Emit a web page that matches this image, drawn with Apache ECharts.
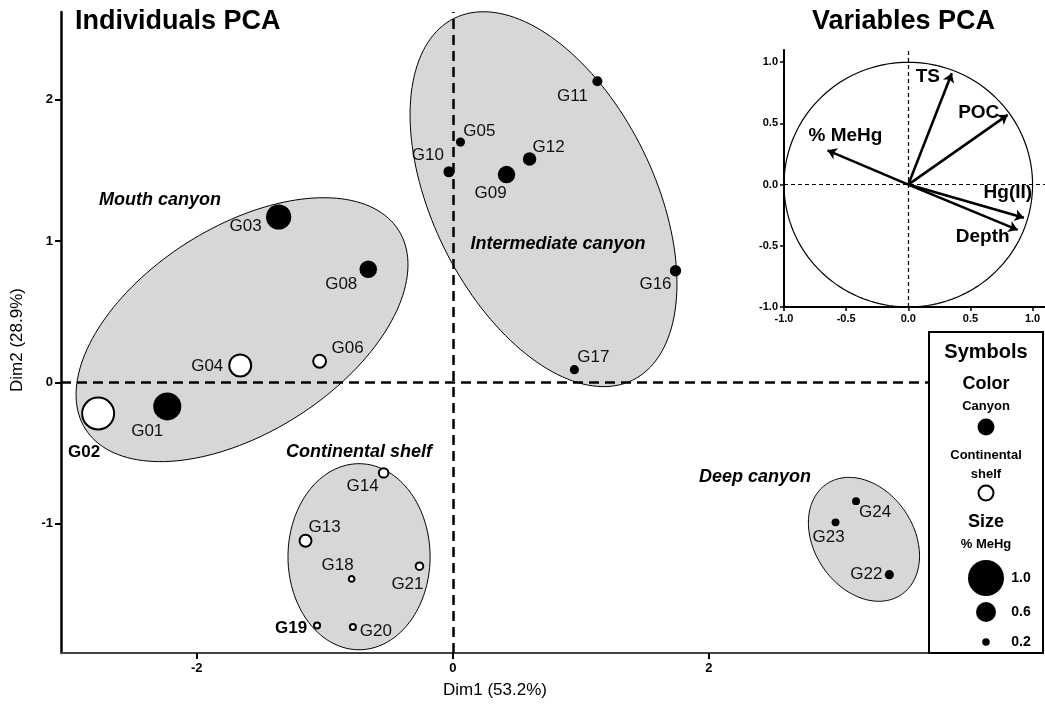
<!DOCTYPE html>
<html><head><meta charset="utf-8">
<script src="https://cdn.jsdelivr.net/npm/echarts@6/dist/echarts.min.js"></script>
<style>html,body{margin:0;padding:0;background:#fff}#c{width:1045px;height:709px}</style>
</head><body><div id="c"></div>
<script>
// ---------------- DATA ----------------
const sampleNames = ['G01','G02','G03','G04','G05','G06','G08','G09','G10','G11','G12','G13','G14','G16','G17','G18','G19','G20','G21','G22','G23','G24'];
const dim1 = [-2.23,-2.77,-1.36,-1.66,0.06,-1.04,-0.66,0.42,-0.03,1.13,0.60,-1.15,-0.54,1.74,0.95,-0.79,-1.06,-0.78,-0.26,3.41,2.99,3.15];
const dim2 = [-0.17,-0.22,1.17,0.12,1.70,0.15,0.80,1.47,1.49,2.13,1.58,-1.12,-0.64,0.79,0.09,-1.39,-1.72,-1.73,-1.30,-1.36,-0.99,-0.84];
const mehg = [0.80,0.90,0.73,0.65,0.25,0.37,0.52,0.52,0.31,0.28,0.39,0.34,0.26,0.32,0.25,0.14,0.15,0.15,0.20,0.25,0.21,0.21];
const habitat = ['Canyon','Shelf','Canyon','Shelf','Canyon','Shelf','Canyon','Canyon','Canyon','Canyon','Canyon','Shelf','Shelf','Canyon','Canyon','Shelf','Shelf','Shelf','Shelf','Canyon','Canyon','Canyon'];

// group confidence ellipses: centre (d1,d2) and two conjugate semi-axis vectors
const groupNames = ['Mouth canyon','Intermediate canyon','Continental shelf','Deep canyon'];
const ellCenter = [[-1.646,0.373],[0.709,1.296],[-0.732,-1.233],[3.212,-1.110]];
const ellAxisU  = [[1.223,0.703],[-0.696,1.280],[0.555,0],[-0.291,0.392]];
const ellAxisV  = [[0.430,-0.614],[0.776,0.346],[0,0.658],[0.322,0.196]];

// variables PCA (loadings)
const varNames = ['% MeHg','TS','POC','Hg(II)','Depth'];
const load1 = [-0.65,0.35,0.80,0.93,0.88];
const load2 = [0.28,0.91,0.57,-0.27,-0.37];

const xTicks = [-2,0,2];
const yTicks = [-1,0,1,2];
const varTicks = [-1,-0.5,0,0.5,1];
const sizeLegendValues = [1.0,0.6,0.2];

// ---------------- STYLE ----------------
const FONT = '"Liberation Sans", Arial, Helvetica, sans-serif';
const labelOffsets = {
  G01:[-20,25],G02:[-14,39],G03:[-33,9],G04:[-33,1],G05:[19,-11],G06:[28,-13],G08:[-27,15],
  G09:[-16,19],G10:[-21,-16],G11:[-25,15],G12:[19,-12],G13:[19,-13],G14:[-21,13],G16:[-20,14],
  G17:[19,-12],G18:[-14,-14],G19:[-26,3],G20:[23,4],G21:[-12,18],G22:[-23,0],G23:[-7,15],G24:[19,11]
};
const boldLabels = {G02:true,G19:true};
const varLabelOffsets = [[18,-15],[-24,4],[-29,-2],[-16,-25],[-35,7]];
const groupLabelPx = [[160,200],[558,244],[359,452],[755,477]];

function radiusFor(v){ return v <= 0.6 ? 3.8 + (v-0.2)*15.5 : 10 + (v-0.6)*20; }

const pointData = sampleNames.map((n,i)=>{
  const open = habitat[i]==='Shelf';
  return {
    name:n, value:[dim1[i],dim2[i]], symbolSize: 2*radiusFor(mehg[i]),
    itemStyle: open ? {color:'#fff',borderColor:'#000',borderWidth:2,opacity:1} : {color:'#000',borderColor:'#000',borderWidth:0,opacity:1},
    label:{offset:labelOffsets[n], fontWeight: boldLabels[n]?'bold':'normal', color: boldLabels[n]?'#000':'#111'}
  };
});
const ellipseData = groupNames.map((g,i)=>({name:g, value:[ellCenter[i][0],ellCenter[i][1],ellAxisU[i][0],ellAxisU[i][1],ellAxisV[i][0],ellAxisV[i][1]]}));

function ellipseRender(fill, lw){
  return function(params, api){
    const cx=api.value(0), cy=api.value(1), ux=api.value(2), uy=api.value(3), vx=api.value(4), vy=api.value(5);
    const pts=[]; const N=160;
    for(let k=0;k<N;k++){
      const t=2*Math.PI*k/N, c=Math.cos(t), s=Math.sin(t);
      pts.push(api.coord([cx+ux*c+vx*s, cy+uy*c+vy*s]));
    }
    return {type:'polygon', shape:{points:pts}, style:{fill:fill, stroke:'#000', lineWidth:lw}};
  };
}

const chart = echarts.init(document.getElementById('c'), null, {renderer:'canvas'});

const legendX = 986;
const legendGraphics = [
  {type:'rect', shape:{x:929,y:332,width:114,height:321}, style:{fill:'#fff',stroke:'#000',lineWidth:2}, z:10},
  {type:'text', x:legendX, y:352, style:{text:'Symbols',font:'bold 20px '+FONT,fill:'#000',align:'center',verticalAlign:'middle'}, z:11},
  {type:'text', x:legendX, y:384, style:{text:'Color',font:'bold 18px '+FONT,fill:'#000',align:'center',verticalAlign:'middle'}, z:11},
  {type:'text', x:legendX, y:406, style:{text:'Canyon',font:'bold 13px '+FONT,fill:'#000',align:'center',verticalAlign:'middle'}, z:11},
  {type:'circle', shape:{cx:legendX,cy:427,r:8.5}, style:{fill:'#000'}, z:11},
  {type:'text', x:legendX, y:455, style:{text:'Continental',font:'bold 13px '+FONT,fill:'#000',align:'center',verticalAlign:'middle'}, z:11},
  {type:'text', x:legendX, y:474, style:{text:'shelf',font:'bold 13px '+FONT,fill:'#000',align:'center',verticalAlign:'middle'}, z:11},
  {type:'circle', shape:{cx:legendX,cy:493,r:7.5}, style:{fill:'#fff',stroke:'#000',lineWidth:2}, z:11},
  {type:'text', x:legendX, y:522, style:{text:'Size',font:'bold 18px '+FONT,fill:'#000',align:'center',verticalAlign:'middle'}, z:11},
  {type:'text', x:legendX, y:544, style:{text:'% MeHg',font:'bold 13px '+FONT,fill:'#000',align:'center',verticalAlign:'middle'}, z:11}
];
const legendRowsY = [578,612,642];
sizeLegendValues.forEach((v,i)=>{
  legendGraphics.push({type:'circle', shape:{cx:legendX,cy:legendRowsY[i],r:radiusFor(v)}, style:{fill:'#000'}, z:11});
  legendGraphics.push({type:'text', x:1021, y:legendRowsY[i], style:{text:v.toFixed(1),font:'bold 14px '+FONT,fill:'#000',align:'center',verticalAlign:'middle'}, z:11});
});

const groupLabelGraphics = groupNames.map((g,i)=>({type:'text', x:groupLabelPx[i][0], y:groupLabelPx[i][1],
  style:{text:g, font:'italic bold 18px '+FONT, fill:'#000', align:'center', verticalAlign:'middle'}, z:20}));

chart.setOption({
  animation:false,
  backgroundColor:'#fff',
  textStyle:{fontFamily:FONT},
  grid:[
    {left:61, top:12, width:868, height:641, containLabel:false},
    {left:784, top:50, width:261, height:257, containLabel:false}
  ],
  xAxis:[
    {type:'value', gridIndex:0, min:-3.06, max:3.72, splitLine:{show:false},
     axisLine:{show:true,onZero:false,lineStyle:{color:'#444',width:2}},
     axisTick:{show:true,length:6,customValues:xTicks,lineStyle:{color:'#000',width:2}},
     axisLabel:{customValues:xTicks,color:'#000',fontWeight:'bold',fontSize:13,margin:9,fontFamily:FONT}},
    {type:'value', gridIndex:1, min:-1, max:1.1, splitLine:{show:false},
     axisLine:{show:true,onZero:false,lineStyle:{color:'#000',width:2}},
     axisTick:{show:true,length:4,customValues:varTicks,lineStyle:{color:'#000',width:1.5}},
     axisLabel:{customValues:varTicks,color:'#000',fontWeight:'bold',fontSize:11,margin:6,fontFamily:FONT,formatter:v=>v.toFixed(1)}}
  ],
  yAxis:[
    {type:'value', gridIndex:0, min:-1.914, max:2.62, splitLine:{show:false},
     axisLine:{show:true,onZero:false,lineStyle:{color:'#000',width:2.5}},
     axisTick:{show:true,length:6,customValues:yTicks,lineStyle:{color:'#000',width:2}},
     axisLabel:{customValues:yTicks,color:'#000',fontWeight:'bold',fontSize:13,margin:8,fontFamily:FONT}},
    {type:'value', gridIndex:1, min:-1, max:1.1, splitLine:{show:false},
     axisLine:{show:true,onZero:false,lineStyle:{color:'#000',width:2}},
     axisTick:{show:true,length:4,customValues:varTicks,lineStyle:{color:'#000',width:1.5}},
     axisLabel:{customValues:varTicks,color:'#000',fontWeight:'bold',fontSize:11,margin:6,fontFamily:FONT,formatter:v=>v.toFixed(1)}}
  ],
  series:[
    {type:'custom', name:'ellipses', xAxisIndex:0, yAxisIndex:0, z:1, silent:true,
     renderItem: ellipseRender('rgba(205,205,205,0.8)',1), encode:{x:0,y:1}, data:ellipseData, clip:false},
    {type:'scatter', name:'zeroLines', xAxisIndex:0, yAxisIndex:0, z:2, symbolSize:0, data:[[0,0]], silent:true,
     markLine:{silent:true, z:2, symbol:'none', label:{show:false}, animation:false,
       lineStyle:{color:'#000',width:2.5,type:[10,6]}, data:[{xAxis:0},{yAxis:0}]}},
    {type:'scatter', name:'individuals', xAxisIndex:0, yAxisIndex:0, z:3, data:pointData,
     itemStyle:{opacity:1},
     label:{show:true, position:'inside', formatter:'{b}', fontSize:17, fontFamily:FONT, align:'center', verticalAlign:'middle', opacity:1}},
    {type:'custom', name:'circle', xAxisIndex:1, yAxisIndex:1, z:1, silent:true,
     renderItem: ellipseRender('rgba(0,0,0,0)',1.2), encode:{x:0,y:1}, data:[[0,0,1,0,0,1]], clip:false},
    {type:'scatter', name:'varZero', xAxisIndex:1, yAxisIndex:1, z:2, symbolSize:0, data:[[0,0]], silent:true,
     markLine:{silent:true, z:2, symbol:'none', label:{show:false}, animation:false,
       lineStyle:{color:'#000',width:1.2,type:[4,3]}, data:[{xAxis:0},{yAxis:0}]}},
    {type:'lines', name:'arrows', coordinateSystem:'cartesian2d', xAxisIndex:1, yAxisIndex:1, z:3,
     symbol:['none','arrow'], symbolSize:[0,9], lineStyle:{color:'#000',width:2.6,opacity:1,curveness:0},
     data: varNames.map((n,i)=>({name:n, coords:[[0,0],[load1[i],load2[i]]]}))},
    {type:'scatter', name:'varLabels', xAxisIndex:1, yAxisIndex:1, z:4, symbolSize:0, itemStyle:{opacity:1},
     data: varNames.map((n,i)=>({name:n, value:[load1[i],load2[i]], label:{offset:varLabelOffsets[i]}})),
     label:{show:true, position:'inside', formatter:'{b}', fontSize:19, fontWeight:'bold', color:'#000', opacity:1, fontFamily:FONT, align:'center', verticalAlign:'middle'}}
  ],
  graphic:[
    {type:'text', left:75, top:8, style:{text:'Individuals PCA', font:'bold 27px '+FONT, fill:'#000'}, z:20},
    {type:'text', left:812, top:8, style:{text:'Variables PCA', font:'bold 27px '+FONT, fill:'#000'}, z:20},
    {type:'text', x:495, y:690, style:{text:'Dim1 (53.2%)', font:'17px '+FONT, fill:'#000', align:'center', verticalAlign:'middle'}, z:20},
    {type:'text', x:17, y:340, rotation:Math.PI/2, style:{text:'Dim2 (28.9%)', font:'17px '+FONT, fill:'#000', align:'center', verticalAlign:'middle'}, z:20}
  ].concat(groupLabelGraphics).concat(legendGraphics)
});
</script>
</body></html>
